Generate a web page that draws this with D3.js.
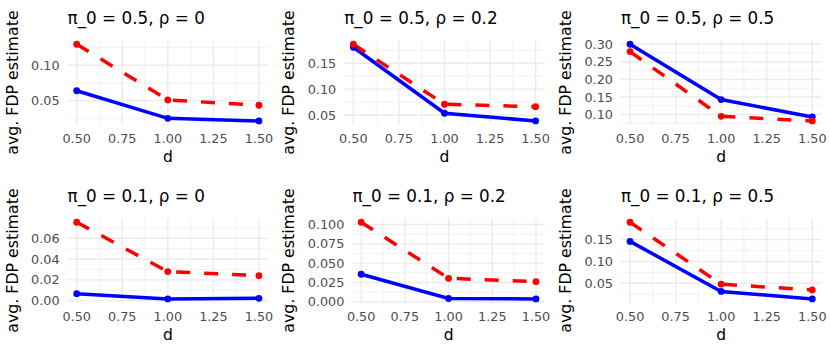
<!DOCTYPE html>
<html>
<head>
<meta charset="utf-8">
<script src="https://cdn.jsdelivr.net/npm/d3@7"></script>
<style>
  body { margin: 0; background: #fff; }
  text { font-family: "DejaVu Sans", sans-serif; }
</style>
</head>
<body>
<div id="chart"></div>
<script>
// values
var dVals = [0.5, 1.0, 1.5];
var xTicks = [0.5, 0.75, 1.0, 1.25, 1.5];
var xTickLabels = ["0.50", "0.75", "1.00", "1.25", "1.50"];

var panelTitles = ["π_0 = 0.5, ρ = 0", "π_0 = 0.5, ρ = 0.2", "π_0 = 0.5, ρ = 0.5",
                   "π_0 = 0.1, ρ = 0", "π_0 = 0.1, ρ = 0.2", "π_0 = 0.1, ρ = 0.5"];

var blueVals = [[0.064, 0.025, 0.0213],
                [0.181, 0.0533, 0.0384],
                [0.300, 0.1426, 0.093],
                [0.0067, 0.0016, 0.0022],
                [0.0356, 0.0042, 0.0036],
                [0.146, 0.031, 0.0138]];

var redVals = [[0.1297, 0.051, 0.0435],
               [0.1868, 0.0707, 0.066],
               [0.279, 0.095, 0.0817],
               [0.0754, 0.0279, 0.024],
               [0.103, 0.0304, 0.026],
               [0.190, 0.0477, 0.0346]];

var yTicks = [[0.05, 0.10],
              [0.05, 0.10, 0.15],
              [0.10, 0.15, 0.20, 0.25, 0.30],
              [0, 0.02, 0.04, 0.06],
              [0, 0.025, 0.05, 0.075, 0.10],
              [0.05, 0.10, 0.15]];

var yTickLabels = [["0.05", "0.10"],
                   ["0.05", "0.10", "0.15"],
                   ["0.10", "0.15", "0.20", "0.25", "0.30"],
                   ["0.00", "0.02", "0.04", "0.06"],
                   ["0.000", "0.025", "0.050", "0.075", "0.100"],
                   ["0.05", "0.10", "0.15"]];

var width = 830, height = 356;
var cellW = width / 3, cellH = 178;

var svg = d3.select("#chart").append("svg")
    .attr("width", width)
    .attr("height", height);

// ggplot style: 5% expansion of the data range
function expand(ext) {
  var r = ext[1] - ext[0];
  return [ext[0] - r * 0.05, ext[1] + r * 0.05];
}

// minor breaks half way between majors (plus one past each end)
function minors(ticks) {
  var step = ticks[1] - ticks[0];
  var out = [ticks[0] - step / 2];
  for (var i = 0; i < ticks.length; i++) out.push(ticks[i] + step / 2);
  return out;
}

function drawPanel(p) {
  var cx = (p % 3) * cellW;
  var cy = Math.floor(p / 3) * cellH;
  var g = svg.append("g").attr("transform", "translate(" + cx + "," + cy + ")");

  // y tick labels first so we can measure them
  var labs = g.append("g").selectAll("text")
      .data(yTickLabels[p])
      .enter()
      .append("text")
      .attr("font-size", 12.8)
      .attr("fill", "#4d4d4d")
      .attr("text-anchor", "end")
      .text(function(d) { return d; });
  var maxW = 0;
  labs.each(function() { maxW = Math.max(maxW, this.getComputedTextLength()); });

  var pLeft = 39.1 + maxW, pRight = cellW - 8.6;
  var pTop = 40.4, pBottom = 124.8;

  var x = d3.scaleLinear().domain(expand([0.5, 1.5])).range([pLeft, pRight]);
  var allVals = blueVals[p].concat(redVals[p]);
  var y = d3.scaleLinear().domain(expand(d3.extent(allVals))).range([pBottom, pTop]);
  var yd = y.domain();

  var grid = g.insert("g", ":first-child");
  // minor grid
  grid.selectAll("line.xmin")
      .data(minors(xTicks).filter(function(v) { return v > 0.45 && v < 1.55; }))
      .enter().append("line")
      .attr("x1", function(d) { return x(d); }).attr("x2", function(d) { return x(d); })
      .attr("y1", pTop).attr("y2", pBottom)
      .attr("stroke", "#ebebeb").attr("stroke-width", 0.7);
  grid.selectAll("line.ymin")
      .data(minors(yTicks[p]).filter(function(v) { return v > yd[0] && v < yd[1]; }))
      .enter().append("line")
      .attr("y1", function(d) { return y(d); }).attr("y2", function(d) { return y(d); })
      .attr("x1", pLeft).attr("x2", pRight)
      .attr("stroke", "#ebebeb").attr("stroke-width", 0.7);
  // major grid
  grid.selectAll("line.xmaj")
      .data(xTicks)
      .enter().append("line")
      .attr("x1", function(d) { return x(d); }).attr("x2", function(d) { return x(d); })
      .attr("y1", pTop).attr("y2", pBottom)
      .attr("stroke", "#ebebeb").attr("stroke-width", 1.4);
  grid.selectAll("line.ymaj")
      .data(yTicks[p])
      .enter().append("line")
      .attr("y1", function(d) { return y(d); }).attr("y2", function(d) { return y(d); })
      .attr("x1", pLeft).attr("x2", pRight)
      .attr("stroke", "#ebebeb").attr("stroke-width", 1.4);

  labs.attr("x", pLeft - 8)
      .attr("y", function(d, i) { return y(yTicks[p][i]); })
      .attr("dy", "0.36em");

  // x tick labels
  g.selectAll("text.xt")
      .data(xTickLabels)
      .enter().append("text")
      .attr("class", "xt")
      .attr("x", function(d, i) { return x(xTicks[i]); })
      .attr("y", 143.3)
      .attr("font-size", 12.8)
      .attr("fill", "#4d4d4d")
      .attr("text-anchor", "middle")
      .text(function(d) { return d; });

  // titles
  g.append("text")
      .attr("x", pLeft).attr("y", 24.3)
      .attr("font-size", 16.8)
      .attr("fill", "#000")
      .text(panelTitles[p]);
  g.append("text")
      .attr("x", (pLeft + pRight) / 2).attr("y", 162.3)
      .attr("font-size", 15.5)
      .attr("text-anchor", "middle")
      .attr("fill", "#000")
      .text("d");
  g.append("text")
      .attr("transform", "translate(17.5," + ((pTop + pBottom) / 2) + ") rotate(-90)")
      .attr("font-size", 15.8)
      .attr("text-anchor", "middle")
      .attr("fill", "#000")
      .text("avg. FDP estimate");

  // lines
  var line = d3.line()
      .x(function(d, i) { return x(dVals[i]); })
      .y(function(d) { return y(d); });

  g.append("path")
      .attr("d", line(blueVals[p]))
      .attr("fill", "none")
      .attr("stroke", "blue")
      .attr("stroke-width", 3.5);
  g.append("path")
      .attr("d", line(redVals[p]))
      .attr("fill", "none")
      .attr("stroke", "red")
      .attr("stroke-width", 3.5)
      .attr("stroke-dasharray", "14,14");

  g.selectAll("circle.b")
      .data(blueVals[p])
      .enter().append("circle")
      .attr("class", "b")
      .attr("cx", function(d, i) { return x(dVals[i]); })
      .attr("cy", function(d) { return y(d); })
      .attr("r", 3.4)
      .attr("fill", "blue");
  g.selectAll("circle.r")
      .data(redVals[p])
      .enter().append("circle")
      .attr("class", "r")
      .attr("cx", function(d, i) { return x(dVals[i]); })
      .attr("cy", function(d) { return y(d); })
      .attr("r", 3.4)
      .attr("fill", "red");
}

for (var p = 0; p < 6; p++) drawPanel(p);
</script>
</body>
</html>
